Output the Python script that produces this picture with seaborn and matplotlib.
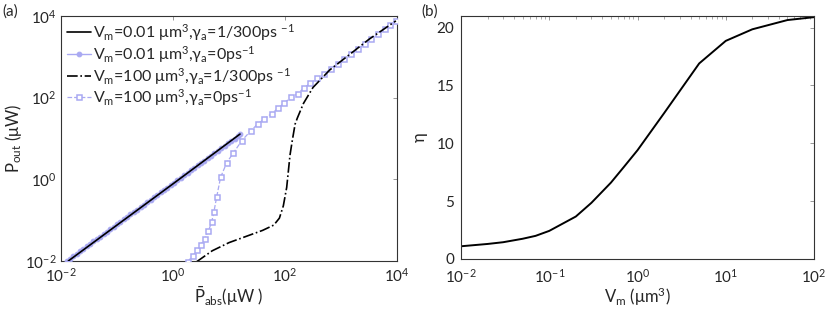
import matplotlib
matplotlib.use('Agg')
import matplotlib.pyplot as plt
import matplotlib.ticker as mticker
import seaborn as sns
import numpy as np
import pandas as pd

# ---- panel (a): log10 values ----
# V_m = 0.01, gamma_a = 1/300 (solid black)
solid_lx = [-1.87, -1.0, 0.0, 1.196]
solid_ly = [-2.00, -1.12, -0.11, 1.108]

# V_m = 0.01, gamma_a = 0 (light blue circles)
circ_lx = [-1.90, -1.84, -1.78, -1.72, -1.66, -1.60, -1.54, -1.48, -1.42, -1.36,
           -1.30, -1.24, -1.18, -1.12, -1.06, -1.00, -0.94, -0.88, -0.82, -0.76,
           -0.70, -0.64, -0.58, -0.52, -0.46, -0.40, -0.34, -0.28, -0.22, -0.16,
           -0.10, -0.04, 0.02, 0.08, 0.14, 0.20, 0.26, 0.32, 0.38, 0.44,
           0.50, 0.56, 0.62, 0.68, 0.74, 0.80, 0.86, 0.92, 0.98, 1.04,
           1.10, 1.16, 1.20]
circ_ly = [-2.00, -1.94, -1.88, -1.82, -1.76, -1.70, -1.64, -1.58, -1.52, -1.46,
           -1.40, -1.34, -1.28, -1.22, -1.16, -1.10, -1.04, -0.98, -0.92, -0.86,
           -0.80, -0.74, -0.68, -0.62, -0.56, -0.50, -0.44, -0.38, -0.32, -0.26,
           -0.20, -0.14, -0.08, -0.02, 0.04, 0.10, 0.16, 0.22, 0.28, 0.34,
           0.40, 0.46, 0.52, 0.58, 0.64, 0.70, 0.76, 0.82, 0.88, 0.94,
           1.00, 1.06, 1.10]

# V_m = 100, gamma_a = 1/300 (black dash-dot)
dd_lx = [0.42, 0.70, 1.00, 1.30, 1.60, 1.80, 1.90, 1.97, 2.03, 2.06, 2.09, 2.13,
         2.18, 2.22, 2.33, 2.50, 2.80, 3.10, 3.50, 3.98]
dd_ly = [-2.02, -1.75, -1.55, -1.40, -1.25, -1.12, -0.95, -0.65, -0.20, 0.20, 0.60, 0.95,
         1.35, 1.50, 1.86, 2.25, 2.68, 3.00, 3.43, 3.88]

# V_m = 100, gamma_a = 0 (light blue squares)
sq_lx = [0.26, 0.35, 0.43, 0.50, 0.565, 0.63, 0.69, 0.73, 0.78, 0.85, 0.96, 1.08,
         1.23, 1.39, 1.51, 1.63, 1.76, 1.88, 1.99, 2.11, 2.23, 2.34, 2.45, 2.58,
         2.70, 2.82, 2.94, 3.06, 3.18, 3.30, 3.42, 3.54, 3.66, 3.78, 3.88, 3.98]
sq_ly = [-2.02, -1.88, -1.735, -1.60, -1.45, -1.27, -1.05, -0.80, -0.43, 0.05, 0.41, 0.65,
         0.95, 1.19, 1.35, 1.48, 1.61, 1.74, 1.875, 2.01, 2.10, 2.24, 2.35, 2.47,
         2.59, 2.71, 2.83, 2.95, 3.07, 3.19, 3.31, 3.43, 3.55, 3.67, 3.78, 3.88]

# ---- panel (b) ----
vm = [0.01, 0.02, 0.03, 0.05, 0.07, 0.1, 0.2, 0.3, 0.5, 0.7, 1, 2, 5, 10, 20, 50, 100]
eta = [1.10, 1.30, 1.45, 1.75, 2.00, 2.43, 3.67, 4.85, 6.6, 7.95, 9.4, 12.6, 16.9,
       18.85, 19.85, 20.65, 20.9]

labels = [r'V$_{m}$=0.01 μm$^{3}$,γ$_{a}$=1/300ps $^{-1}$',
          r'V$_{m}$=0.01 μm$^{3}$,γ$_{a}$=0ps$^{-1}$',
          r'V$_{m}$=100 μm$^{3}$,γ$_{a}$=1/300ps $^{-1}$',
          r'V$_{m}$=100 μm$^{3}$,γ$_{a}$=0ps$^{-1}$']

sns.set_style('white')
plt.rcParams['font.family'] = ['Lato', 'DejaVu Sans']
plt.rcParams['mathtext.default'] = 'regular'
plt.rcParams['axes.linewidth'] = 0.8
plt.rcParams['axes.edgecolor'] = '#333333'

light = '#a9a9f2'


def to_df(lx, ly):
    return pd.DataFrame({'x': 10 ** np.array(lx), 'y': 10 ** np.array(ly)})


fig = plt.figure(figsize=(8.3, 3.17), dpi=100)
ax1 = fig.add_axes([61 / 830, 56 / 317, 336 / 830, 245 / 317])
ax2 = fig.add_axes([461 / 830, 58 / 317, 353 / 830, 243 / 317])

ax1.set_xscale('log')
ax1.set_yscale('log')

sns.lineplot(data=to_df(solid_lx, solid_ly), x='x', y='y', ax=ax1, sort=False,
             color='black', lw=1.2, label=labels[0], zorder=5)
sns.lineplot(data=to_df(circ_lx, circ_ly), x='x', y='y', ax=ax1, sort=False,
             color=light, lw=1.0, marker='o', markersize=3.4, mfc=light, mec=light,
             label=labels[1], zorder=3)
sns.lineplot(data=to_df(dd_lx, dd_ly), x='x', y='y', ax=ax1, sort=False,
             color='black', lw=1.2, linestyle='-.', label=labels[2], zorder=4)
sns.lineplot(data=to_df(sq_lx, sq_ly), x='x', y='y', ax=ax1, sort=False,
             color=light, lw=0.9, linestyle='--', marker='s', markersize=3.6,
             mfc='white', mec=light, mew=1.1, label=labels[3], zorder=3)

ax1.set_xlim(1e-2, 1e4)
ax1.set_ylim(1e-2, 1e4)
ax1.xaxis.set_major_locator(mticker.FixedLocator([1e-2, 1e0, 1e2, 1e4]))
ax1.yaxis.set_major_locator(mticker.FixedLocator([1e-2, 1e0, 1e2, 1e4]))
ax1.xaxis.set_minor_locator(mticker.NullLocator())
ax1.yaxis.set_minor_locator(mticker.NullLocator())
ax1.set_xlabel(r'$\bar{P}_{abs}$(μW )', fontsize=12, labelpad=0)
ax1.set_ylabel(r'P$_{out}$ (μW)', fontsize=12, labelpad=1)
leg = ax1.legend(loc='upper left', bbox_to_anchor=(0.0, 1.0), frameon=False,
                 fontsize=11.5, handlelength=1.5, handletextpad=0.1,
                 labelspacing=0.05, borderaxespad=0.25, borderpad=0.15)

sns.lineplot(x=vm, y=eta, ax=ax2, color='black', lw=1.4)
ax2.set_xscale('log')
ax2.set_xlim(1e-2, 1e2)
ax2.set_ylim(0, 21)
ax2.set_yticks([0, 5, 10, 15, 20])
ax2.xaxis.set_major_locator(mticker.LogLocator(base=10, numticks=10))
ax2.xaxis.set_minor_locator(mticker.LogLocator(base=10, subs=np.arange(2, 10), numticks=20))
ax2.set_xlabel(r'V$_{m}$ (μm$^{3}$)', fontsize=12, labelpad=0)
ax2.set_ylabel('η', fontsize=12, labelpad=6)

for ax in (ax1, ax2):
    ax.tick_params(which='both', direction='in', top=True, right=True,
                   labelsize=11, color='#888888')
    ax.tick_params(axis='x', pad=4)
    ax.tick_params(axis='y', pad=3)
    ax.tick_params(which='major', length=3, width=0.6)
    ax.tick_params(which='minor', length=1.8, width=0.5)
    for s in ax.spines.values():
        s.set_visible(True)
ax2.tick_params(axis='x', pad=6)
ax2.tick_params(axis='y', pad=5)

fig.text(2 / 830, 1 - 12 / 317, '(a)', fontsize=11, va='center', ha='left')
fig.text(421 / 830, 1 - 12 / 317, '(b)', fontsize=11, va='center', ha='left')

fig.savefig('out.png', dpi=100)
